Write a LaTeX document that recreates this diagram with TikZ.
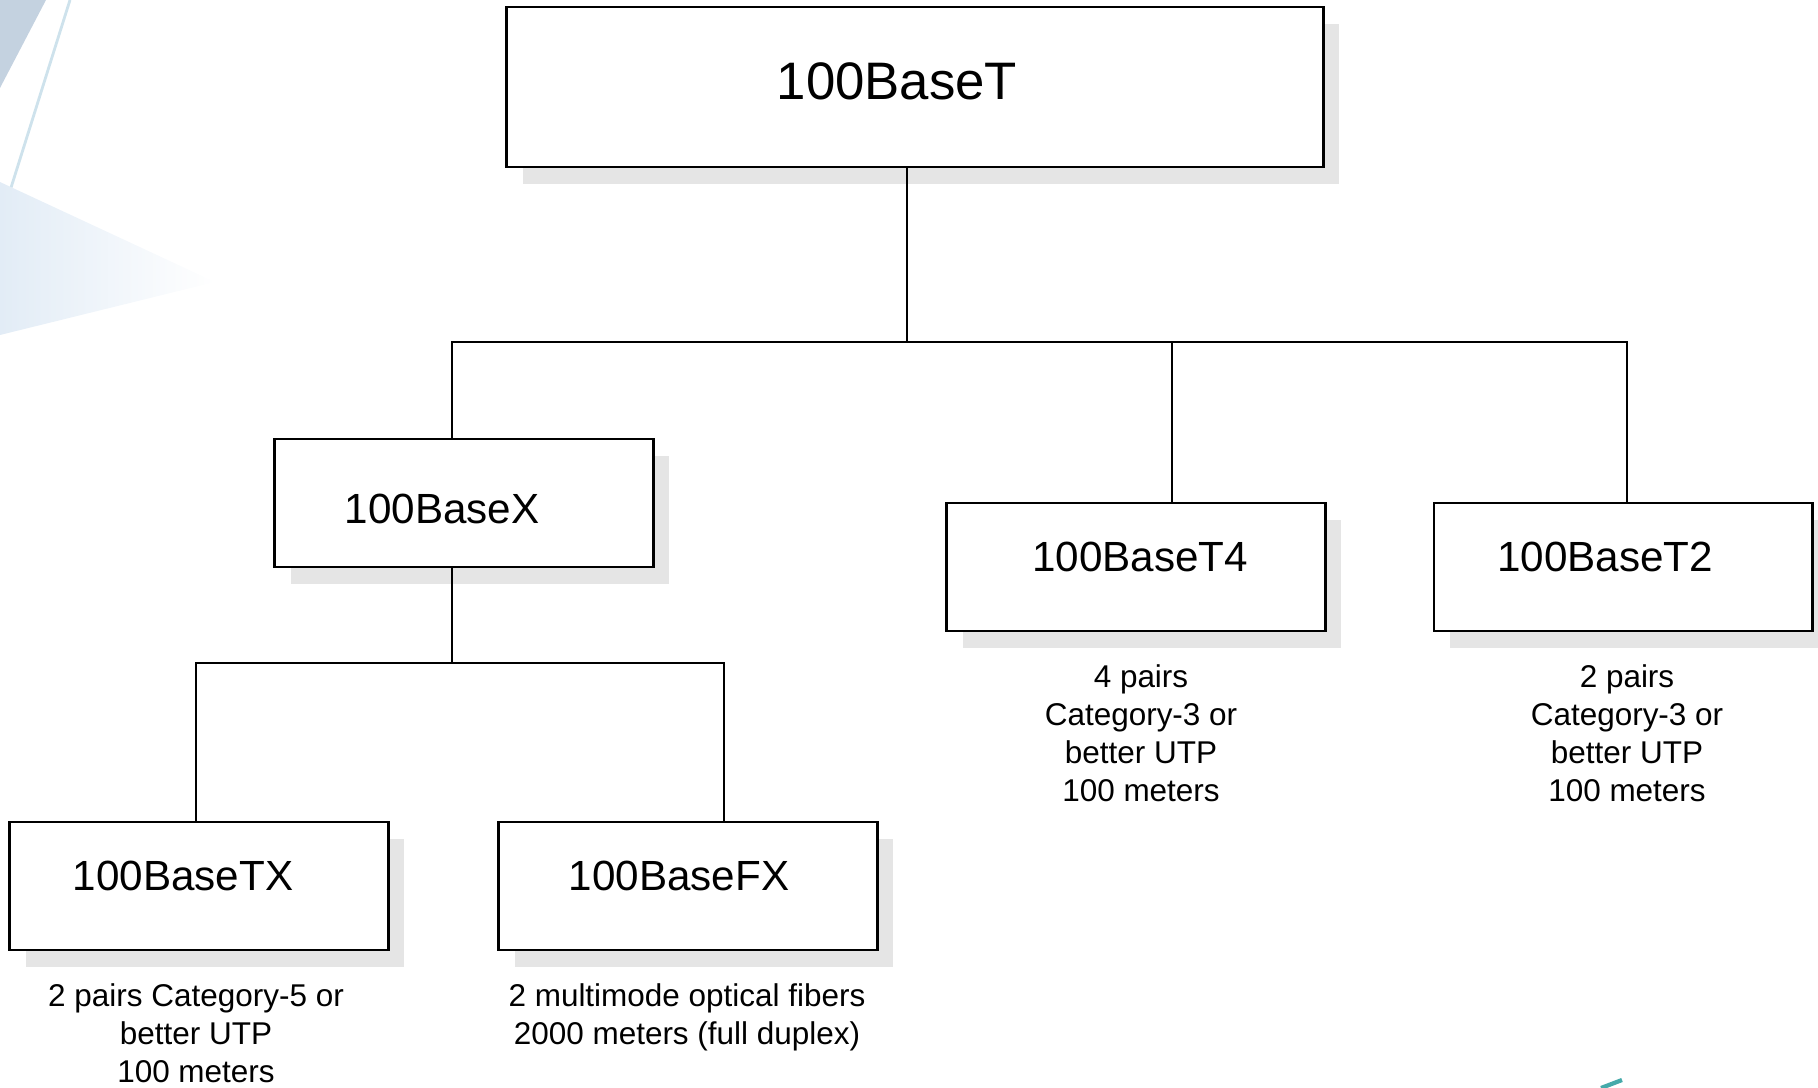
\documentclass[tikz,border=0pt]{standalone}
\usepackage{fontspec}
\setmainfont{Liberation Sans}
\usetikzlibrary{shadows}
\definecolor{slidegray}{RGB}{196,210,224}
\definecolor{slideline}{RGB}{206,226,236}
\definecolor{slidewash}{RGB}{226,236,246}
\definecolor{slideteal}{RGB}{70,170,170}

\begin{document}
\begin{tikzpicture}[x=0.01cm,y=-0.01cm,
   box/.style={draw,line width=0.8pt,fill=white,inner sep=0pt,
     general shadow={fill=black!10,shadow xshift=0.16cm,shadow yshift=-0.17cm}},
   small box/.style={box,minimum width=3.78cm,minimum height=1.28cm},
   title/.style={anchor=base,inner sep=0pt,font=\fontsize{12}{14}\selectfont},
   note/.style={anchor=base,inner sep=0pt,align=center,
     font=\fontsize{8.95}{10.8}\selectfont},
   link/.style={line width=0.8pt}]
  \useasboundingbox (0,0) rectangle (1818,1088);

  % faint slide background
  \fill[slidegray] (0,0) -- (46,0) -- (0,88) -- cycle;
  \draw[slideline,line width=0.8pt] (70,0) -- (4,210);
  \shade[left color=slidewash,right color=white]
    (0,182) -- (215,282) -- (0,335) -- cycle;
  \draw[slideteal,line width=1.2pt] (1601,1088) -- (1622,1080);

  % boxes
  \node[box,minimum width=8.16cm,minimum height=1.60cm] (base) at (915,87) {};
  \node[small box] (bx) at (464,503) {};
  \node[small box] (bt4) at (1136,567) {};
  \node[small box] (bt2) at (1623,567) {};
  \node[small box] (btx) at (199,886) {};
  \node[small box] (bfx) at (688,886) {};

  \node[title,font=\fontsize{15}{18}\selectfont] (baselbl) at (897,100) {100BaseT};
  \node[title] (bxlbl) at (442,523) {100BaseX};
  \node[title] (bt4lbl) at (1140,571) {100BaseT4};
  \node[title] (bt2lbl) at (1605,571) {100BaseT2};
  \node[title] (btxlbl) at (183,890) {100BaseTX};
  \node[title] (bfxlbl) at (679,890) {100BaseFX};

  % media notes (base = last line)
  \node[note] (t4note) at (1141,801) {4 pairs\\Category-3 or\\better UTP\\100 meters};
  \node[note] (t2note) at (1627,801) {2 pairs\\Category-3 or\\better UTP\\100 meters};
  \node[note] (txnote) at (196,1082) {2 pairs Category-5 or\\better UTP\\100 meters};
  \node[note] (fxnote) at (687,1044) {2 multimode optical fibers\\2000 meters (full duplex)};

  % tree lines
  \coordinate (jbase) at (907,342);
  \coordinate (jx) at (452,342);
  \coordinate (jt4) at (1172,342);
  \coordinate (jt2) at (1627,342);
  \coordinate (jsub) at (452,663);
  \coordinate (jtx) at (196,663);
  \coordinate (jfx) at (724,663);
  \draw[link] (base.south -| jbase) -- (jbase);
  \draw[link] (jx |- bx.north) -- (jx) -- (jt2) -- (jt2 |- bt2.north);
  \draw[link] (jt4) -- (jt4 |- bt4.north);
  \draw[link] (bx.south -| jsub) -- (jsub);
  \draw[link] (jtx |- btx.north) -- (jtx) -- (jfx) -- (jfx |- bfx.north);
\end{tikzpicture}
\end{document}
